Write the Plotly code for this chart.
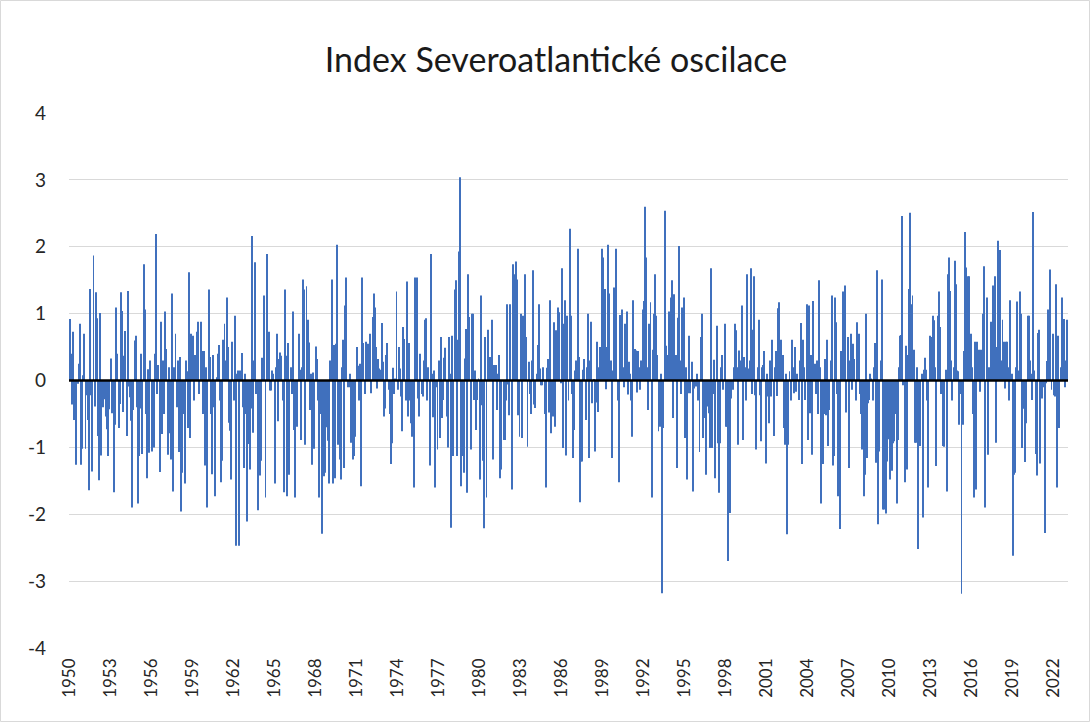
import plotly.graph_objects as go

# Monthly NAO index values (Jan 1950 - Jan 2023)
nao_1950s = [
    0.92, 0.40, -0.36, 0.73, -0.59, -0.06, -1.26, -0.05, 0.25, 0.85, -1.26, -1.02,
    0.08, 0.70, -1.02, -0.22, -0.59, -1.64, 1.37, -0.22, -1.36, 1.87, -0.39, 1.32,
    0.93, -0.83, -1.49, 1.01, -1.12, -0.40, -0.09, -0.28, -0.54, -0.73, -1.13, -0.43,
    0.33, -0.49, -0.04, -1.67, -0.66, 1.09, 0.40, -0.71, -0.35, 1.32, 1.04, -0.47,
    0.37, 0.74, -0.83, 1.34, -0.09, -0.25, -0.60, -1.90, -0.44, 0.60, 0.67, -0.40,
    -1.84, -1.13, -0.42, 0.40, -1.10, 1.74, 1.06, -0.50, -1.46, 0.17, -1.08, 0.30,
    -1.06, -0.60, -1.00, 0.40, 2.19, -0.20, 0.23, -1.37, 0.88, -0.80, 0.30, -0.50,
    1.03, 0.47, -1.11, 0.20, -0.79, -1.18, 1.30, -1.66, 0.20, 0.70, -0.40, 0.30,
    -1.07, 0.35, -1.96, -1.38, -0.50, -1.54, 0.30, 0.14, -0.71, 1.62, -0.86, 0.70,
    0.67, -0.30, 0.38, 0.10, 0.73, 0.88, -0.20, 0.88, 0.44, -0.50, 0.44, -1.27,
]
nao_1960s = [
    0.20, -1.90, 1.36, 0.35, -0.50, -1.40, 0.38, -0.40, -1.73, 0.05, 0.40, 0.53,
    -0.30, -1.52, -1.20, 0.61, 0.85, 0.30, 1.24, 0.50, -0.63, -0.75, -1.48, 0.58,
    -0.30, 0.97, -2.47, 0.10, 0.15, -2.47, 0.15, 0.41, -0.40, -1.31, 0.10, -0.50,
    -2.11, -0.95, -1.33, -0.42, 2.16, -0.78, 0.30, 1.77, -0.20, -1.94, -0.96, -1.42,
    -1.20, 0.34, 0.33, 1.27, -1.75, 1.89, 0.20, 0.73, -0.15, -0.15, 0.15, 0.10,
    -1.54, 0.20, 0.70, -0.61, 0.32, 0.42, 0.37, -0.30, -1.67, 1.36, 0.37, -1.73,
    0.56, -1.41, 0.20, -0.20, 1.03, -0.74, -1.75, -0.30, -0.69, 0.70, 0.16, -0.89,
    0.20, 1.51, 1.36, -0.96, 1.41, 0.91, 0.57, -0.44, 0.10, -1.26, 0.12, -1.02,
    0.51, 0.32, -0.30, -1.75, -0.25, -0.50, -2.29, -1.43, -1.38, -0.70, -0.30, -0.90,
    -1.54, 0.30, 1.51, -1.54, 0.53, -1.46, 0.55, 2.03, -0.96, -1.18, -1.48, 0.20,
]
nao_1970s = [
    0.61, -1.31, 1.12, 1.54, -0.10, -0.10, 0.10, -0.93, -0.50, -1.18, -1.13, -0.84,
    0.50, 0.22, -0.30, 0.25, -1.58, 1.54, 0.56, -0.20, 0.58, 0.32, 0.55, 0.32,
    0.70, -0.19, 0.95, 1.30, 1.09, 0.50, -0.12, 0.32, 0.18, 0.16, 0.86, 0.28,
    -0.54, -0.42, 0.38, 0.56, -0.14, -0.50, -1.25, -0.94, 0.19, -0.20, 0.03, 1.33,
    -0.14, 0.50, 0.18, -0.24, -0.76, 0.80, 0.62, -0.30, 1.48, -0.54, 0.56, -0.30,
    -0.64, -0.84, -1.60, 1.54, 0.30, 1.54, -0.27, -0.54, 0.40, -0.20, -0.24, 0.30,
    0.91, 0.93, -0.30, 0.20, -1.27, 1.89, 0.10, -0.55, 0.15, -1.60, -0.10, -1.03,
    0.30, -0.86, 0.65, -0.56, -0.29, 0.34, 0.49, -0.54, -1.00, 0.65, 0.10, -2.20,
    0.67, -1.13, 1.36, 1.50, -1.13, 0.61, 1.93, 3.04, -1.58, -1.13, -1.38, 0.33,
    0.77, -1.68, 1.59, 0.95, -1.03, 1.00, 1.00, -0.29, 0.15, -0.74, -0.29, 0.03,
]
nao_1980s = [
    -1.48, 1.27, -0.37, -1.20, -2.21, 0.65, -1.75, 0.76, 0.35, 0.35, 0.30, 0.91,
    -1.18, 0.23, 0.23, -0.44, 0.10, 0.38, -1.46, -1.33, 0.00, -0.89, -0.89, -0.30,
    1.14, -0.06, -0.52, 1.14, -1.63, 1.74, 1.59, 0.50, 1.78, 1.51, -0.52, -0.84,
    1.00, -0.86, 0.97, 0.30, 1.59, 0.65, -0.99, 0.28, -0.20, -0.50, 0.30, 1.65,
    -0.36, -0.41, 0.10, 0.53, 1.14, 0.18, -0.07, -0.07, 0.20, -0.50, -1.60, 0.19,
    0.32, -0.48, 1.20, -0.79, -0.54, 0.87, -0.69, 0.75, 0.20, 1.09, 1.02, -0.04,
    1.68, -1.01, 0.85, 1.20, -1.12, 0.97, -0.30, 2.27, 0.97, -0.20, -1.16, -0.74,
    0.15, 0.30, 1.97, 0.35, -1.82, -1.21, -1.21, 0.16, 0.32, -0.59, 0.20, 1.00,
    -1.16, 0.30, 0.88, -0.34, 0.01, -1.06, -0.33, 0.58, -0.47, 0.20, 0.50, 1.97,
    1.84, 0.20, 1.37, -0.13, 0.50, 2.03, 1.30, 0.30, -1.16, 0.15, 1.39, 0.30,
]
nao_1990s = [
    1.97, -0.30, -1.52, 0.98, 0.20, 1.06, 0.20, -0.10, 0.85, 1.03, -0.21, 0.28,
    0.10, -0.30, -0.84, 1.20, 0.47, 0.45, -0.18, 0.44, 0.20, -0.14, 0.30, 1.06,
    1.19, 2.60, 1.84, 0.20, -0.44, 0.85, 1.17, -1.75, 0.46, 1.00, 1.59, 0.97,
    0.38, -0.76, -0.69, 0.10, -3.18, -0.71, 0.00, 2.54, 0.52, 0.38, 1.03, 0.20,
    1.24, 1.50, -0.56, 1.29, 0.38, -1.31, 0.94, 2.01, 0.30, -0.20, 1.09, 1.24,
    -0.86, 0.20, -1.48, -0.19, 0.67, -0.19, 0.28, -1.66, -0.12, -0.05, -0.09, 0.10,
    -0.30, -1.07, 0.65, 1.00, -0.86, -0.56, -0.26, -1.41, -0.39, -0.49, -1.01, 1.68,
    -1.01, -0.20, 0.31, -1.46, 0.82, -0.94, -1.68, -0.94, 0.20, 0.38, -0.14, 0.85,
    -0.69, -0.69, -2.70, -0.49, -1.98, -0.27, -0.14, 0.20, 0.85, 0.75, 0.20, -0.96,
    0.45, 0.30, 1.12, -0.89, 0.35, 0.20, -0.30, 1.59, 0.18, 0.30, 1.68, -0.20,
]
nao_2000s = [
    0.76, 1.56, -0.22, -1.03, 0.20, 0.91, -0.22, -0.91, 0.20, 0.23, 0.44, -1.24,
    0.10, -0.24, -0.64, 0.30, -0.24, 0.61, -0.83, 0.20, 0.44, -0.23, 1.08, 1.17,
    0.61, 0.61, 0.38, -0.71, -0.96, 0.10, -2.30, -0.96, 0.14, -0.30, 0.61, 0.20,
    -0.19, 0.50, -0.17, 0.10, -0.29, 0.30, 0.86, -1.25, 0.61, 0.20, -0.29, 1.14,
    -0.89, 1.12, -0.49, 0.38, -1.11, 1.19, 0.25, -0.20, 0.30, -0.50, 1.50, 0.20,
    -1.84, -1.25, -0.50, 0.32, -0.52, 0.61, -0.98, -0.44, 0.30, 1.27, -1.27, -1.13,
    1.24, 0.87, -0.20, -1.73, -2.22, 0.44, 0.10, 1.33, 0.20, 1.42, -0.48, 0.65,
    -1.31, 0.30, 0.70, -0.14, 0.55, 0.32, -0.30, 0.87, 0.20, 0.70, -0.20, -0.50,
    -1.03, -1.73, -1.41, 1.00, -1.16, -0.34, -0.29, 0.10, 0.03, -0.30, 0.20, 0.56,
    -1.23, 1.65, -2.15, -1.06, 0.30, 1.51, -1.93, -1.93, -0.50, -1.99, -1.21, -0.88,
]
nao_2010s = [
    -1.48, -1.21, -1.35, -0.94, -0.91, -0.50, -1.84, -0.89, 0.20, 0.67, 0.68, 2.46,
    -0.07, -1.52, 0.52, -1.33, 0.38, 1.37, 2.51, 1.14, 1.27, 0.46, -0.93, -0.93,
    0.20, -2.52, -0.98, -0.98, 0.10, -2.05, 0.16, 0.34, 0.16, -0.30, -1.60, 0.67,
    0.65, 0.65, 0.97, 0.90, 0.20, -1.28, 0.97, 1.33, 0.80, -0.20, -0.19, -0.98,
    -0.99, 0.16, -1.66, 1.59, 1.84, 1.34, 0.30, -0.30, 0.20, 1.79, 1.44, 0.15,
    0.14, -0.66, -0.20, -3.19, -0.66, 0.44, 2.22, 1.69, 0.23, 1.56, 1.56, 0.70,
    0.20, -0.50, -1.75, 0.58, -1.63, 0.58, 0.46, -0.17, 0.46, 0.20, 1.00, 1.71,
    -1.90, 1.24, -1.11, 0.20, 0.16, 0.88, 0.30, 1.42, 1.56, -0.93, 0.50, 2.09,
    1.39, 1.95, 0.30, 0.91, 0.58, -0.12, 0.58, 0.58, 0.20, -0.30, 1.20, 0.10,
    -2.62, -1.41, -1.38, 0.20, 1.18, 0.15, 1.33, 1.00, -1.01, -0.42, -0.42, -1.22,
]
nao_2020s = [
    -0.64, 0.97, 0.97, 0.30, 0.10, -0.29, 2.52, 0.15, -1.10, -1.42, 0.71, 0.76,
    -1.24, -0.19, -0.27, -0.10, -2.28, -0.04, 0.29, 1.06, 0.30, 1.66, -0.14, 0.70,
    -0.22, -0.24, 1.44, -1.60, 0.67, -0.71, 0.20, 1.24, 0.10, 0.92, -0.10, 0.30,
    0.91,
]

first_year = 1950
label_step_years = 3
y_ticks = [4, 3, 2, 1, 0, -1, -2, -3, -4]
title_text = "Index Severoatlantické oscilace"

values = nao_1950s + nao_1960s + nao_1970s + nao_1980s + nao_1990s + nao_2000s + nao_2010s + nao_2020s
n = len(values)
xs = list(range(n))
tick_pos = list(range(0, n, 12 * label_step_years))
tick_txt = [str(first_year + k * label_step_years) for k in range(len(tick_pos))]

W, H = 1090, 722
ml, mr, mt, mb = 69, 22, 113, 74
FONT = "Lato"
TXT = "#262626"

fig = go.Figure(go.Bar(
    x=xs, y=values,
    marker=dict(color="#4070bd", line=dict(width=0)),
    hoverinfo="y",
))

plot_w = W - ml - mr
plot_h = H - mt - mb

fig.update_layout(
    width=W, height=H,
    margin=dict(l=ml, r=mr, t=mt, b=mb, pad=0),
    paper_bgcolor="white", plot_bgcolor="white",
    bargap=0.15,
    showlegend=False,
    title=dict(text=title_text, x=556 / W, xref="container", xanchor="center",
               y=1 - 60 / H, yref="container", yanchor="middle",
               font=dict(family=FONT, size=34, color="#1a1a1a")),
    font=dict(family=FONT, color=TXT),
    xaxis=dict(range=[-0.5, n - 0.5], tickmode="array", tickvals=tick_pos, ticktext=tick_txt,
               tickangle=-90, tickfont=dict(size=17, color=TXT), showgrid=False,
               zeroline=False, showline=False, ticks="", ticklabelstandoff=6),
    yaxis=dict(range=[-4, 4], tickmode="array", tickvals=y_ticks, ticktext=[str(v) for v in y_ticks],
               tickfont=dict(size=19, color=TXT), showgrid=True, gridcolor="#d9d9d9", gridwidth=1,
               zeroline=False, showline=False, ticks="", ticklabelstandoff=22),
    shapes=[
        dict(type="line", xref="paper", yref="y", x0=0, x1=1, y0=0, y1=0,
             line=dict(color="black", width=2.5), layer="above"),
        dict(type="rect", xref="paper", yref="paper",
             x0=(0.5 - ml) / plot_w, x1=(W - 0.5 - ml) / plot_w,
             y0=-(mb - 0.5) / plot_h, y1=1 + (mt - 0.5) / plot_h,
             line=dict(color="#d9d9d9", width=1), fillcolor="rgba(0,0,0,0)", layer="below"),
    ],
)

fig.write_html("out.html", config={"displayModeBar": False},
               post_script="document.body.style.margin='0';document.body.style.overflow='hidden';")
